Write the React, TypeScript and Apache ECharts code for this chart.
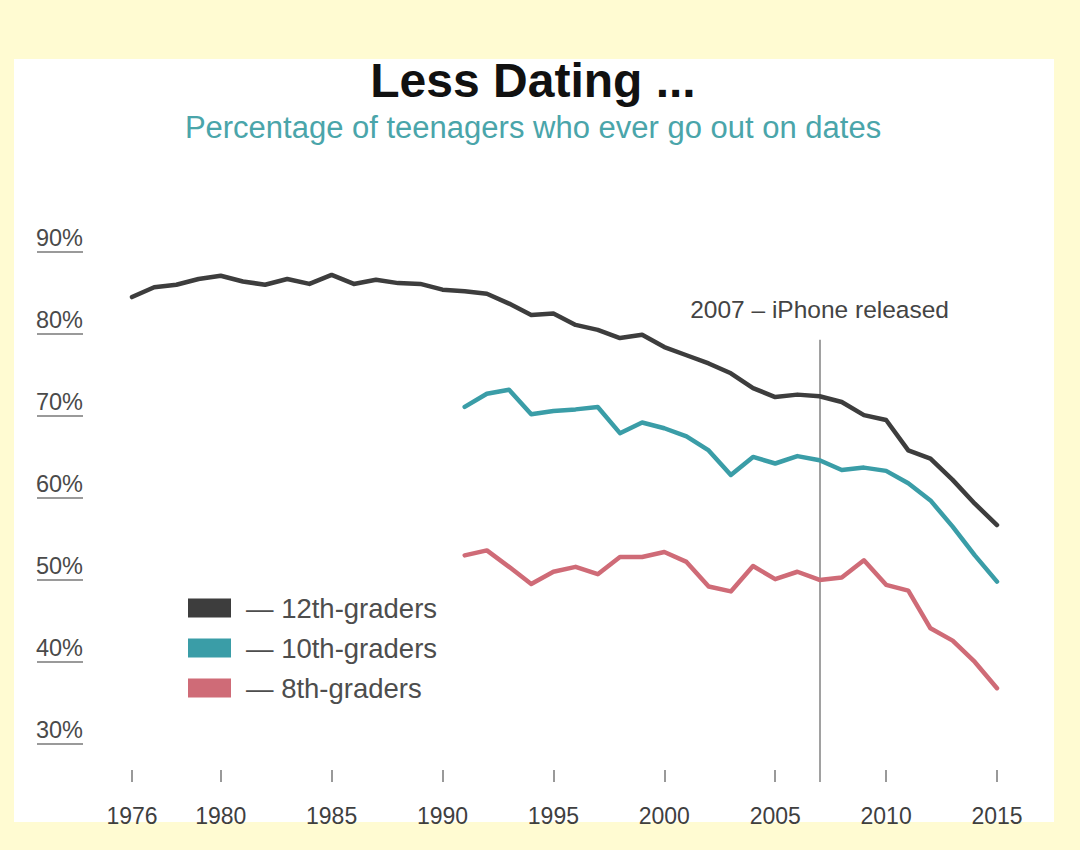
import React, { useEffect, useRef } from "react";
import * as echarts from "echarts";

const titleText = "Less Dating ...";
const subtitleText = "Percentage of teenagers who ever go out on dates";
const seriesNames = ["12th-graders", "10th-graders", "8th-graders"];
const seriesColors = ["#3d3d3d", "#3a9da7", "#cf6b77"];

const years12 = [
  1976, 1977, 1978, 1979, 1980, 1981, 1982, 1983, 1984, 1985,
  1986, 1987, 1988, 1989, 1990, 1991, 1992, 1993, 1994, 1995,
  1996, 1997, 1998, 1999, 2000, 2001, 2002, 2003, 2004, 2005,
  2006, 2007, 2008, 2009, 2010, 2011, 2012, 2013, 2014, 2015,
];
const grade12 = [
  82.8, 84.0, 84.3, 85.0, 85.4, 84.7, 84.3, 85.0, 84.4, 85.5,
  84.4, 84.9, 84.5, 84.4, 83.7, 83.5, 83.2, 82.0, 80.6, 80.8,
  79.4, 78.8, 77.8, 78.2, 76.7, 75.7, 74.7, 73.5, 71.7, 70.6,
  70.9, 70.7, 70.0, 68.4, 67.8, 64.1, 63.1, 60.5, 57.6, 55.0,
];

const years10and8 = [
  1991, 1992, 1993, 1994, 1995, 1996, 1997, 1998, 1999, 2000,
  2001, 2002, 2003, 2004, 2005, 2006, 2007, 2008, 2009, 2010,
  2011, 2012, 2013, 2014, 2015,
];
const grade10 = [
  69.4, 71.0, 71.5, 68.5, 68.9, 69.1, 69.4, 66.2, 67.5, 66.8,
  65.8, 64.1, 61.1, 63.3, 62.5, 63.4, 62.9, 61.7, 62.0, 61.6,
  60.1, 58.0, 54.8, 51.3, 48.1,
];
const grade8 = [
  51.3, 51.9, 49.9, 47.8, 49.3, 49.9, 49.0, 51.1, 51.1, 51.7,
  50.5, 47.5, 46.9, 50.0, 48.4, 49.3, 48.3, 48.6, 50.7, 47.7,
  47.0, 42.4, 40.9, 38.3, 35.1,
];

const xTickYears = [1976, 1980, 1985, 1990, 1995, 2000, 2005, 2010, 2015];
const yTickValues = [30, 40, 50, 60, 70, 80, 90];
const xMin = 1976;
const xMax = 2015;
const yMin = 23.66;
const yMax = 90;

const eventYear = 2007;
const eventTopValue = 77.6;
const eventLabel = "2007 \u2013 iPhone released";

const FONT = "'Liberation Sans', Arial, sans-serif";

function pairs(xs: number[], ys: number[]) {
  return xs.map((x, i) => [x, ys[i]]);
}

export default function App() {
  const ref = useRef<HTMLDivElement>(null);

  useEffect(() => {
    if (!ref.current) return;
    const chart = echarts.init(ref.current, undefined, { renderer: "svg" });

    const lineSeries = [
      { name: seriesNames[0], data: pairs(years12, grade12) },
      { name: seriesNames[1], data: pairs(years10and8, grade10) },
      { name: seriesNames[2], data: pairs(years10and8, grade8) },
    ].map((s, i) => ({
      type: "line",
      name: s.name,
      data: s.data,
      showSymbol: false,
      symbol: "none",
      z: 5,
      lineStyle: { color: seriesColors[i], width: 4.5, join: "round", cap: "round" },
      itemStyle: { color: seriesColors[i] },
    }));

    const option: any = {
      animation: false,
      backgroundColor: "#fffbd2",
      textStyle: { fontFamily: FONT },
      graphic: [
        {
          type: "rect",
          z: -100,
          silent: true,
          shape: { x: 14, y: 59, width: 1040, height: 763 },
          style: { fill: "#ffffff" },
        },
        {
          type: "text",
          z: 100,
          x: 533,
          y: 80,
          style: {
            text: titleText,
            fill: "#111111",
            font: `bold 48px ${FONT}`,
            textAlign: "center",
            textVerticalAlign: "middle",
          },
        },
        {
          type: "text",
          z: 100,
          x: 533,
          y: 127,
          style: {
            text: subtitleText,
            fill: "#4aa5aa",
            font: `31px ${FONT}`,
            textAlign: "center",
            textVerticalAlign: "middle",
          },
        },
      ],
      legend: {
        orient: "vertical",
        left: 183,
        top: 589,
        icon: "rect",
        itemWidth: 43,
        itemHeight: 19,
        itemGap: 12,
        data: seriesNames,
        formatter: (name: string) => `\u2014 ${name}`,
        textStyle: {
          fontSize: 27.5,
          color: "#4d4d4d",
          fontFamily: FONT,
          padding: [0, 0, 0, 10],
        },
      },
      grid: { left: 132, right: 83, top: 238, bottom: 68, containLabel: false },
      xAxis: {
        type: "value",
        min: xMin,
        max: xMax,
        axisLine: { show: false },
        splitLine: { show: false },
        axisTick: {
          show: true,
          inside: true,
          length: 12,
          customValues: xTickYears,
          lineStyle: { color: "#999999", width: 2 },
        },
        axisLabel: {
          customValues: xTickYears,
          formatter: (v: number) => String(v),
          margin: 22,
          fontSize: 23,
          color: "#3f3f3f",
          fontFamily: FONT,
        },
      },
      yAxis: {
        type: "value",
        min: yMin,
        max: yMax,
        axisLine: { show: false },
        axisTick: { show: false },
        splitLine: { show: false },
        axisLabel: {
          customValues: yTickValues,
          formatter: (v: number) => `{t|${v}%}\n{u| }`,
          margin: 49,
          padding: [2, 0, 0, 0],
          rich: {
            t: { fontSize: 23.5, lineHeight: 26, color: "#4a4a4a", fontFamily: FONT },
            u: { width: 46, height: 2, lineHeight: 2, fontSize: 1, backgroundColor: "#9a9a9a" },
          },
        },
      },
      series: [
        {
          type: "line",
          name: "event",
          data: [],
          z: 1,
          markLine: {
            silent: true,
            symbol: "none",
            lineStyle: { color: "#8a8a8a", width: 1.6, type: "solid" },
            label: {
              show: true,
              position: "end",
              distance: 18,
              formatter: eventLabel,
              fontSize: 24.5,
              color: "#444444",
              fontFamily: FONT,
            },
            data: [
              [
                { coord: [eventYear, yMin] },
                { coord: [eventYear, eventTopValue] },
              ],
            ],
          },
        },
        ...lineSeries,
      ],
    };

    chart.setOption(option);
    return () => chart.dispose();
  }, []);

  return (
    <div
      ref={ref}
      style={{ position: "fixed", left: 0, top: 0, width: 1080, height: 850 }}
    />
  );
}
